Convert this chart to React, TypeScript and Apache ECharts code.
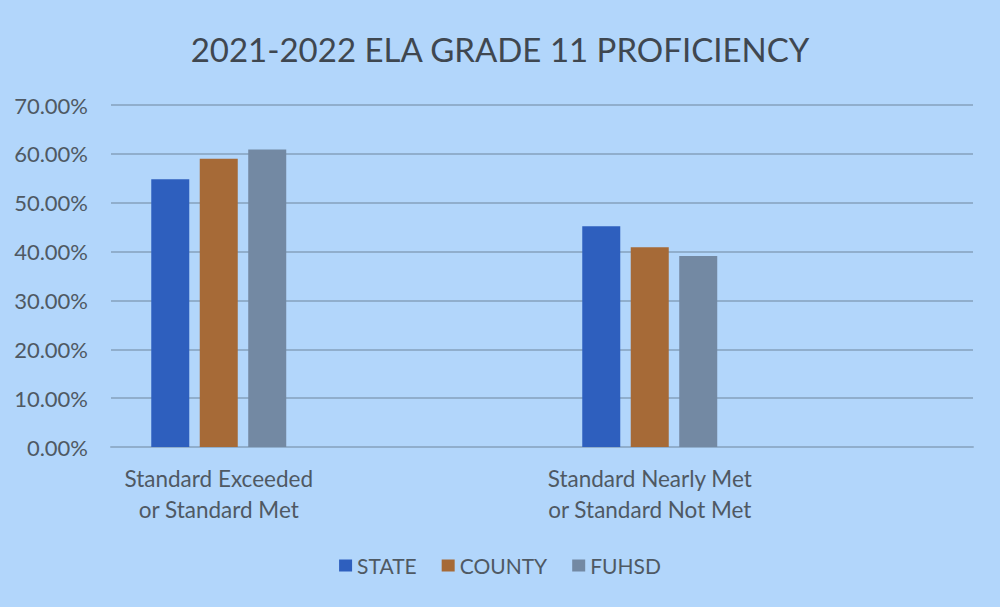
import React, { useEffect, useRef } from "react";
import * as echarts from "echarts";

const categories = ["Standard Exceeded\nor Standard Met", "", "Standard Nearly Met\nor Standard Not Met", ""];
const seriesNames = ["STATE", "COUNTY", "FUHSD"];
const stateValues = [54.8, null, 45.2, null];
const countyValues = [59.0, null, 40.9, null];
const fuhsdValues = [60.9, null, 39.1, null];
const colors = ["#2E5FBE", "#A66A37", "#7389A3"];
const yTicks = { min: 0, max: 70, interval: 10 };

const FONT = "Lato";
const TEXT = "#4F5963";

export default function App() {
  const ref = useRef<HTMLDivElement>(null);
  useEffect(() => {
    if (!ref.current) return;
    const chart = echarts.init(ref.current, undefined, { renderer: "svg" });
    const values = [stateValues, countyValues, fuhsdValues];
    chart.setOption({
      animation: false,
      backgroundColor: "#B2D6FB",
      title: {
        text: "2021-2022 ELA GRADE 11 PROFICIENCY",
        left: "center",
        top: 27,
        textStyle: { fontFamily: FONT, fontSize: 33, fontWeight: "normal", color: "#3F4750" },
      },
      legend: {
        data: seriesNames,
        bottom: 26,
        left: "center",
        icon: "rect",
        itemWidth: 13,
        itemHeight: 12,
        itemGap: 25,
        textStyle: { fontFamily: FONT, fontSize: 21, color: TEXT },
      },
      grid: { left: 111, right: 27, top: 105, bottom: 160, containLabel: false },
      xAxis: {
        type: "category",
        data: categories,
        axisLine: { lineStyle: { color: "#90AECC", width: 2 } },
        axisTick: { show: false },
        axisLabel: {
          interval: 0,
          margin: 16,
          lineHeight: 31,
          fontFamily: FONT,
          fontSize: 22.5,
          color: TEXT,
        },
      },
      yAxis: {
        type: "value",
        min: yTicks.min,
        max: yTicks.max,
        interval: yTicks.interval,
        axisLine: { show: false },
        axisTick: { show: false },
        splitLine: { lineStyle: { color: "#90AECC", width: 2 } },
        axisLabel: {
          margin: 23,
          fontFamily: FONT,
          fontSize: 22,
          color: TEXT,
          formatter: (v: number) => v.toFixed(2) + "%",
        },
      },
      series: seriesNames.map((name, i) => ({
        name,
        type: "bar",
        data: values[i],
        barWidth: 38,
        barGap: "27.6%",
        itemStyle: { color: colors[i] },
      })),
    });
    return () => chart.dispose();
  }, []);
  return (
    <div
      ref={ref}
      style={{ position: "fixed", left: 0, top: 0, width: 1000, height: 607 }}
    />
  );
}
